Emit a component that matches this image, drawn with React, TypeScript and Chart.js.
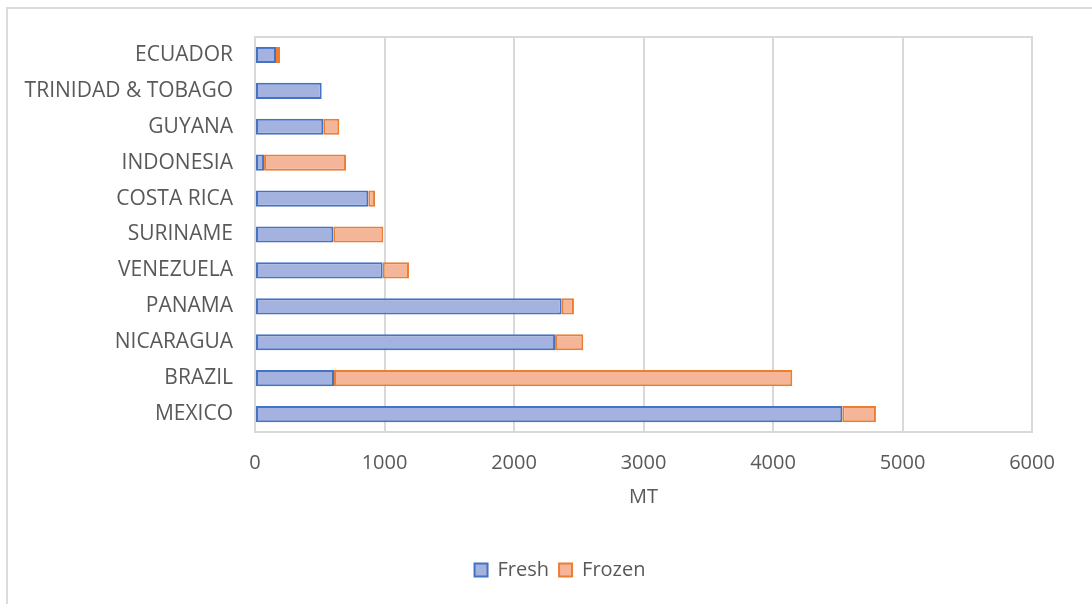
import React, { useEffect, useRef } from "react";
import { Chart, registerables } from "chart.js";

Chart.register(...registerables);

const countries = [
  "ECUADOR",
  "TRINIDAD & TOBAGO",
  "GUYANA",
  "INDONESIA",
  "COSTA RICA",
  "SURINAME",
  "VENEZUELA",
  "PANAMA",
  "NICARAGUA",
  "BRAZIL",
  "MEXICO",
];
const freshValues = [162, 515, 527, 70, 875, 605, 986, 2368, 2317, 610, 4535];
const frozenValues = [31, null, 124, 633, 52, 386, 203, 95, 218, 3539, 260];
const xAxisTitle = "MT";
const seriesNames = ["Fresh", "Frozen"];

const FONT = "'Open Sans', 'Noto Sans', sans-serif";
const TEXT = "#595959";

const plotBorder = {
  id: "plotBorder",
  afterLayout(chart: any) {
    const lg = chart.legend;
    if (lg) {
      lg.left += 44;
      lg.right += 44;
    }
  },
  beforeDatasetsDraw(chart: any) {
    const { ctx, chartArea } = chart;
    ctx.save();
    ctx.strokeStyle = "#d9d9d9";
    ctx.lineWidth = 2;
    ctx.strokeRect(chartArea.left, chartArea.top, chartArea.right - chartArea.left, chartArea.bottom - chartArea.top);
    ctx.restore();
  },
};

export default function App() {
  const ref = useRef<HTMLCanvasElement | null>(null);
  useEffect(() => {
    if (!ref.current) return;
    const chart = new Chart(ref.current, {
      type: "bar",
      data: {
        labels: countries,
        datasets: [
          {
            label: seriesNames[0],
            data: freshValues,
            backgroundColor: "#a3b2de",
            borderColor: "#4472c4",
            borderWidth: 2,
            borderSkipped: false,
            barPercentage: 0.45,
            categoryPercentage: 1,
          },
          {
            label: seriesNames[1],
            data: frozenValues as any,
            backgroundColor: "#f5b598",
            borderColor: "#ed7d31",
            borderWidth: 2,
            borderSkipped: false,
            barPercentage: 0.45,
            categoryPercentage: 1,
          },
        ],
      },
      plugins: [plotBorder],
      options: {
        indexAxis: "y",
        responsive: false,
        animation: false,
        layout: { padding: { left: 0, top: 37, right: 60, bottom: 14 } },
        scales: {
          x: {
            stacked: true,
            min: 0,
            max: 6000,
            ticks: {
              stepSize: 1000,
              color: TEXT,
              font: { family: FONT, size: 20 },
              padding: 19,
              callback: (v: any) => String(v),
            },
            grid: { color: "#d9d9d9", lineWidth: 2, drawTicks: false },
            border: { display: true, color: "#bfbfbf", width: 2 },
            title: {
              display: true,
              text: xAxisTitle,
              color: TEXT,
              font: { family: FONT, size: 20 },
              padding: { top: 8, bottom: 41 },
            },
            afterFit(scale: any) {
              scale.height = 118;
            },
          },
          y: {
            stacked: true,
            ticks: { color: TEXT, font: { family: FONT, size: 21 }, padding: 22 },
            grid: { display: false, drawTicks: false },
            border: { display: true, color: "#d9d9d9", width: 2 },
            afterFit(scale: any) {
              scale.width = 255;
            },
          },
        },
        plugins: {
          legend: {
            position: "bottom",
            labels: {
              color: TEXT,
              font: { family: FONT, size: 20 },
              boxWidth: 13,
              boxHeight: 13,
              padding: 10,
            },
          },
          tooltip: { enabled: false },
        },
      },
    });
    return () => chart.destroy();
  }, []);
  return (
    <div style={{ position: "absolute", left: 0, top: 0, width: 1092, height: 604, overflow: "hidden", background: "#fff" }}>
      <div
        style={{
          position: "absolute",
          left: 6,
          top: 7,
          width: 1110,
          height: 620,
          border: "2px solid #dcdcdc",
          boxSizing: "border-box",
        }}
      />
      <canvas ref={ref} width={1092} height={604} style={{ position: "absolute", left: 0, top: 0 }} />
    </div>
  );
}
